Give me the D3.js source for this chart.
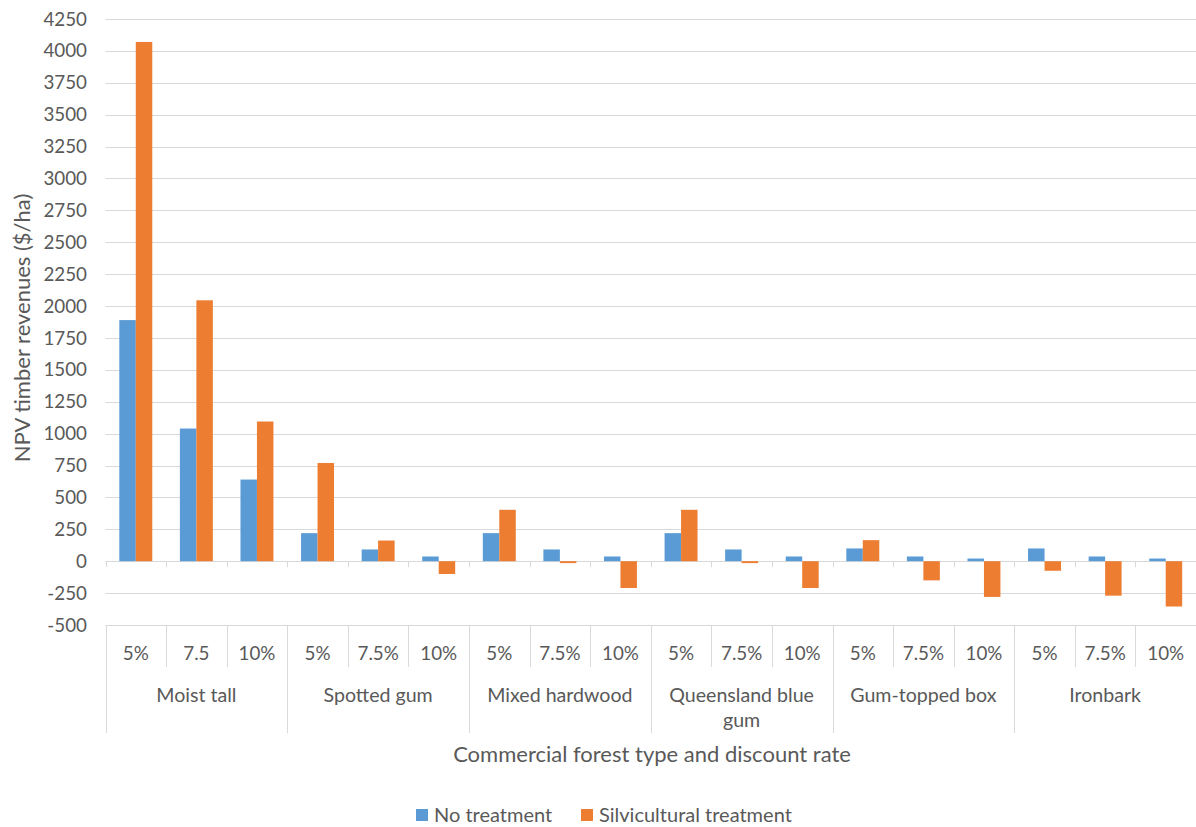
<!DOCTYPE html>
<html>
<head>
<meta charset="utf-8">
<script src="https://cdn.jsdelivr.net/npm/d3@7"></script>
<style>
  html, body { margin: 0; padding: 0; background: #fff; }
  svg { display: block; font-family: Lato, "Open Sans", sans-serif; }
</style>
</head>
<body>
<svg id="chart" width="1196" height="827"></svg>
<script>
// ---- data ----
const groups = ["Moist tall", "Spotted gum", "Mixed hardwood", "Queensland blue gum", "Gum-topped box", "Ironbark"];
const rateLabels = [
  ["5%", "7.5", "10%"],
  ["5%", "7.5%", "10%"],
  ["5%", "7.5%", "10%"],
  ["5%", "7.5%", "10%"],
  ["5%", "7.5%", "10%"],
  ["5%", "7.5%", "10%"]
];
const seriesNames = ["No treatment", "Silvicultural treatment"];
const noTreatment = [1890, 1040, 640, 220, 92, 37, 220, 92, 37, 220, 92, 37, 100, 37, 21, 100, 37, 21];
const silvicultural = [4070, 2045, 1095, 770, 162, -100, 403, -15, -210, 403, -15, -210, 165, -150, -280, -75, -270, -355];
const yTicks = [-500, -250, 0, 250, 500, 750, 1000, 1250, 1500, 1750, 2000, 2250, 2500, 2750, 3000, 3250, 3500, 3750, 4000, 4250];
const colors = ["#5B9BD5", "#ED7D31"];

(function () {
// ---- layout ----
const svg = d3.select("#chart");
const pLeft = 105.5, pRight = 1196, pTop = 19, pBottom = 625;
const textColor = "#595959";
const gridColor = "#D9D9D9";

const cats = [];
groups.forEach((g, gi) => rateLabels[gi].forEach((r, ri) => cats.push({ group: g, gi, rate: r, idx: gi * 3 + ri })));

const x = d3.scaleBand().domain(d3.range(cats.length)).range([pLeft, pRight]).padding(0);
const y = d3.scaleLinear().domain([-500, 4250]).range([pBottom, pTop]);
const barW = x.bandwidth() * 0.272;

// gridlines
svg.append("g").selectAll("line").data(yTicks).join("line")
  .attr("x1", pLeft).attr("x2", pRight)
  .attr("y1", d => Math.round(y(d)) + 0.5).attr("y2", d => Math.round(y(d)) + 0.5)
  .attr("stroke", gridColor).attr("stroke-width", 1);

// y tick labels
svg.append("g").selectAll("text").data(yTicks).join("text")
  .attr("x", 87).attr("y", d => y(d))
  .attr("dy", "0.35em")
  .attr("text-anchor", "end")
  .attr("font-size", 18.8)
  .attr("fill", textColor)
  .text(d => d);

// bars
const seriesData = [noTreatment, silvicultural];
seriesData.forEach((vals, si) => {
  svg.append("g").selectAll("rect").data(vals).join("rect")
    .attr("x", (d, i) => x(i) + x.bandwidth() / 2 - barW + si * barW)
    .attr("width", barW)
    .attr("y", d => y(Math.max(0, d)))
    .attr("height", d => Math.abs(y(d) - y(0)))
    .attr("fill", colors[si]);
});

// zero-line tick marks
const bounds = d3.range(cats.length + 1).map(i => i < cats.length ? x(i) : pRight);
svg.append("g").selectAll("line").data(bounds).join("line")
  .attr("x1", d => Math.round(d) + 0.5).attr("x2", d => Math.round(d) + 0.5)
  .attr("y1", y(0)).attr("y2", y(0) + 6)
  .attr("stroke", gridColor);

// category axis label area separators
svg.append("g").selectAll("line").data(bounds).join("line")
  .attr("x1", d => Math.round(d) + 0.5).attr("x2", d => Math.round(d) + 0.5)
  .attr("y1", pBottom).attr("y2", (d, i) => i % 3 === 0 ? 733 : 667)
  .attr("stroke", gridColor);

// rate labels
svg.append("g").selectAll("text").data(cats).join("text")
  .attr("x", d => x(d.idx) + x.bandwidth() / 2)
  .attr("y", 653).attr("dy", "0.35em")
  .attr("text-anchor", "middle").attr("font-size", 18.8).attr("fill", textColor)
  .text(d => d.rate);

// group labels
const groupLines = { "Queensland blue gum": ["Queensland blue", "gum"] };
groups.forEach((g, gi) => {
  const cx = (x(gi * 3) + (gi * 3 + 3 < cats.length ? x(gi * 3 + 3) : pRight)) / 2;
  const lines = groupLines[g] || [g];
  const t = svg.append("text")
    .attr("x", cx).attr("y", 695)
    .attr("text-anchor", "middle").attr("font-size", 19.6).attr("fill", textColor);
  lines.forEach((l, li) => {
    t.append("tspan").attr("x", cx).attr("dy", li === 0 ? "0.35em" : "1.3em").text(l);
  });
});

// axis titles
svg.append("text")
  .attr("x", 652).attr("y", 754).attr("dy", "0.35em")
  .attr("text-anchor", "middle").attr("font-size", 22).attr("fill", textColor)
  .text("Commercial forest type and discount rate");

svg.append("text")
  .attr("transform", "translate(22,328) rotate(-90)")
  .attr("dy", "0.35em")
  .attr("text-anchor", "middle").attr("font-size", 22).attr("fill", textColor)
  .text("NPV timber revenues ($/ha)");

// legend
const legendX = [416, 581];
seriesNames.forEach((n, i) => {
  svg.append("rect").attr("x", legendX[i]).attr("y", 809).attr("width", 12).attr("height", 12).attr("fill", colors[i]);
  svg.append("text").attr("x", legendX[i] + 18).attr("y", 815).attr("dy", "0.35em")
    .attr("font-size", 20).attr("fill", textColor).text(n);
});
})();
</script>
</body>
</html>
